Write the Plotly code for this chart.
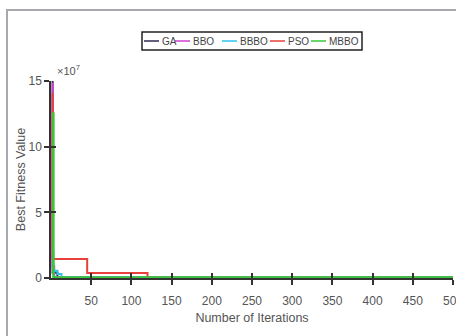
import plotly.graph_objects as go

# Convergence curves: best fitness (in units of 1e7) at the iterations where it changes
ga_iter = [1, 2, 8, 500]
ga_val = [15.0, 0.4, 0.02, 0.02]

bbo_iter = [1, 2, 4, 500]
bbo_val = [14.8, 0.9, 0.08, 0.08]

bbbo_iter = [1, 3, 8, 13, 500]
bbbo_val = [2.0, 0.55, 0.3, 0.03, 0.03]

pso_iter = [1, 2, 45, 120, 500]
pso_val = [14.0, 1.45, 0.38, 0.01, 0.01]

mbbo_iter = [1, 3, 500]
mbbo_val = [12.5, 0.03, 0.03]

names = ["GA", "BBO", "BBBO", "PSO", "MBBO"]
colors = ["#2e2a4f", "#d040d0", "#30c0f0", "#e8403a", "#38c838"]
widths = [2, 2, 2, 2, 2.5]

x_ticks = [50, 100, 150, 200, 250, 300, 350, 400, 450, 500]
y_ticks = [0, 5, 10, 15]

series = [
    (ga_iter, ga_val),
    (bbo_iter, bbo_val),
    (bbbo_iter, bbbo_val),
    (pso_iter, pso_val),
    (mbbo_iter, mbbo_val),
]

W, H = 456, 336
L, R, T, B = 51, 3, 81, 58
pw, ph = W - L - R, H - T - B


def px_x(p):
    return (p - L) / pw


def px_y(p):
    return (H - B - p) / ph


FONT = "Liberation Sans, Arial, sans-serif"

fig = go.Figure()
for i, ((xs, ys), name, col, w) in enumerate(zip(series, names, colors, widths)):
    last = i == len(series) - 1
    fig.add_trace(go.Scatter(
        x=xs, y=ys, mode="lines", name=name,
        line=dict(color=col, width=w, shape="hv"),
        showlegend=False,
        xaxis="x2" if last else "x", yaxis="y2" if last else "y",
    ))

tick_font = dict(family=FONT, size=12, color="#555555")
title_font = dict(family=FONT, size=12.5, color="#555555")
axis_common = dict(showgrid=False, zeroline=False, ticklen=5, tickwidth=1.5,
                   tickcolor="#333333", automargin=False)

fig.update_layout(
    width=W, height=H,
    margin=dict(l=L, r=R, t=T, b=B),
    paper_bgcolor="white", plot_bgcolor="white",
    font=dict(family=FONT, color="#555555"),
    xaxis=dict(range=[0, 500], tickvals=x_ticks, ticks="outside",
               showline=True, linecolor="#333333", linewidth=1.5,
               tickfont=tick_font, ticklabelstandoff=6,
               ticklabeloverflow="allow",
               title=dict(text="Number of Iterations", standoff=6,
                          font=title_font),
               **axis_common),
    yaxis=dict(range=[0, 15], tickvals=y_ticks, ticks="outside",
               showline=True, linecolor="#333333", linewidth=1.5,
               tickfont=tick_font,
               title=dict(text="Best Fitness Value", standoff=0,
                          font=title_font),
               **axis_common),
    xaxis2=dict(range=[0, 500], tickvals=x_ticks, ticks="inside",
                overlaying="x", anchor="y2", side="bottom",
                showticklabels=False, showline=False, **axis_common),
    yaxis2=dict(range=[0, 15], tickvals=y_ticks, ticks="inside",
                overlaying="y", anchor="x2", side="left",
                showticklabels=False, showline=False, **axis_common),
)

# Exponent label of the y axis
fig.add_annotation(xref="paper", yref="paper", x=px_x(55), y=px_y(70),
                   xanchor="left", yanchor="middle", showarrow=False,
                   text="×10<sup>7</sup>",
                   font=dict(family=FONT, size=11, color="#555555"))

# Outer figure frame
fig.add_shape(type="rect", xref="paper", yref="paper",
              x0=px_x(7), x1=px_x(475), y0=px_y(350), y1=px_y(10),
              line=dict(color="#a8a8b0", width=2), layer="below")

# Horizontal legend box at the top
fig.add_shape(type="rect", xref="paper", yref="paper",
              x0=px_x(142), x1=px_x(362), y0=px_y(50), y1=px_y(32),
              line=dict(color="#222222", width=1.5), fillcolor="white")
leg_x = [144, 175, 222, 270, 311]
leg_y = 41
for name, col, x0 in zip(names, colors, leg_x):
    fig.add_shape(type="line", xref="paper", yref="paper",
                  x0=px_x(x0), x1=px_x(x0 + 15), y0=px_y(leg_y), y1=px_y(leg_y),
                  line=dict(color=col, width=1.5))
    fig.add_annotation(xref="paper", yref="paper", x=px_x(x0 + 16), y=px_y(leg_y),
                       xanchor="left", yanchor="middle", showarrow=False,
                       text=name, font=dict(family=FONT, size=10, color="#444444"))

fig.write_html("out.html")
